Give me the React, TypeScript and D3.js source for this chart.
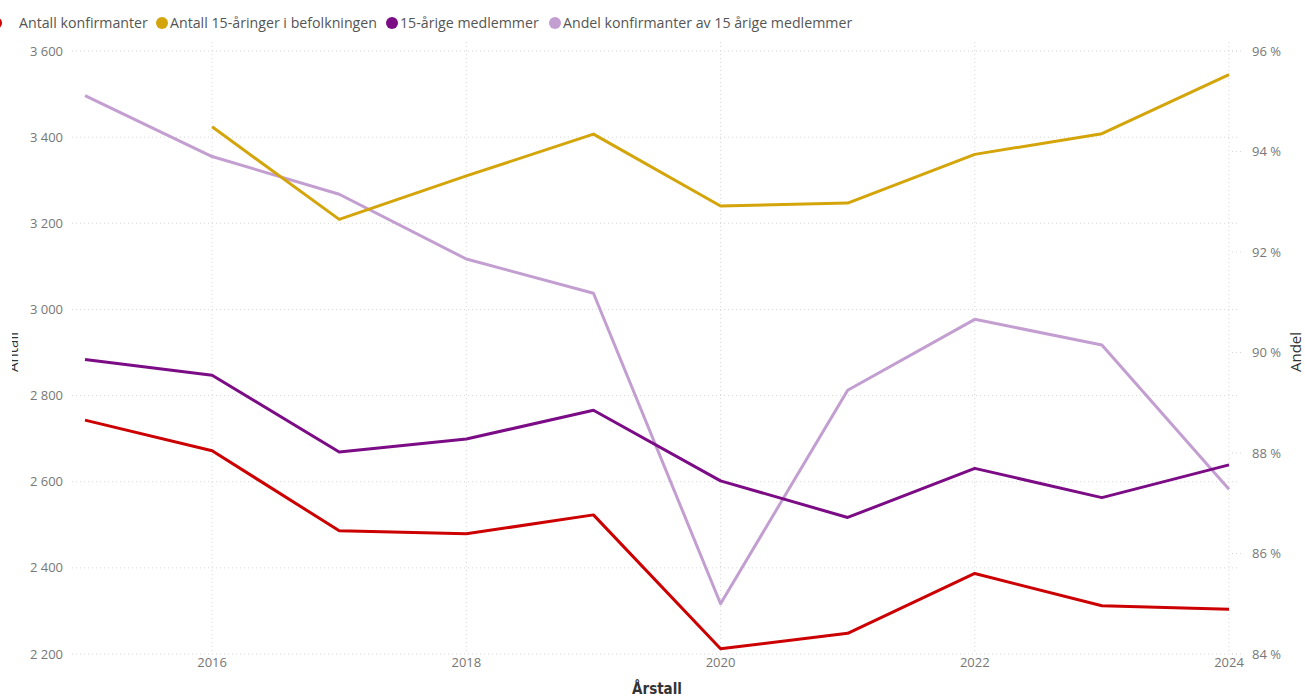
import React from "react";
import * as d3 from "d3";

const years = [2015, 2016, 2017, 2018, 2019, 2020, 2021, 2022, 2023, 2024];
const konfirmanter = [2743, 2672, 2486, 2479, 2523, 2212, 2248, 2387, 2312, 2304];
const befolkning: (number | null)[] = [null, 3424, 3209, 3310, 3407, 3240, 3247, 3360, 3408, 3545];
const medlemmer = [2884, 2847, 2669, 2699, 2766, 2602, 2517, 2631, 2563, 2639];
const andel = [95.11, 93.9, 93.15, 91.86, 91.18, 85.0, 89.25, 90.66, 90.15, 87.28];

const leftTicks = [2200, 2400, 2600, 2800, 3000, 3200, 3400, 3600];
const rightTicks = [84, 86, 88, 90, 92, 94, 96];
const xTicks = [2016, 2018, 2020, 2022, 2024];

const seriesNames = [
  "Antall konfirmanter",
  "Antall 15-åringer i befolkningen",
  "15-årige medlemmer",
  "Andel konfirmanter av 15 årige medlemmer",
];
const colors = ["#CC0000", "#D4A50A", "#7B0C86", "#C39ED1"];

const W = 1305;
const H = 697;

export default function App() {
  const x = d3.scaleLinear().domain([2015, 2024]).range([85, 1229]);
  const yL = d3.scaleLinear().domain([2200, 3600]).range([654, 51]);
  const yR = d3.scaleLinear().domain([84, 96]).range([654, 51]);
  const loc = d3.formatLocale({ decimal: ",", thousands: "\u00a0", grouping: [3], currency: ["", " kr"] });
  const fmtL = loc.format(",d");

  const lineL = d3
    .line<[number, number | null]>()
    .defined((d) => d[1] != null)
    .x((d) => x(d[0]))
    .y((d) => yL(d[1] as number));
  const lineR = d3
    .line<[number, number]>()
    .x((d) => x(d[0]))
    .y((d) => yR(d[1]));

  const zip = (arr: (number | null)[]) => years.map((yr, i) => [yr, arr[i]] as [number, number | null]);

  const font = "'Segoe UI', 'Open Sans', sans-serif";
  const legendX = [{ c: -4, t: 19 }, { c: 162, t: 170 }, { c: 392, t: 400 }, { c: 555, t: 563 }];

  return (
    <svg width={W} height={H} style={{ position: "absolute", left: 0, top: 0, background: "#fff" }} fontFamily={font}>
      <defs>
        <clipPath id="leftClip">
          <rect x={12} y={0} width={W} height={H} />
        </clipPath>
      </defs>
      {/* legend */}
      {seriesNames.map((n, i) => (
        <g key={n}>
          <circle cx={legendX[i].c} cy={23} r={6} fill={colors[i]} />
          <text x={legendX[i].t} y={28} fontSize={14.2} fill="#555">
            {n}
          </text>
        </g>
      ))}
      {/* horizontal grid (left axis) */}
      {leftTicks.map((t) => (
        <line key={"hg" + t} x1={72} x2={1240} y1={yL(t)} y2={yL(t)} stroke="#d6d6d6" strokeWidth={1} strokeDasharray="1 3" />
      ))}
      {/* right axis short grid */}
      {rightTicks.map((t) => (
        <line key={"rg" + t} x1={1232} x2={1243} y1={yR(t)} y2={yR(t)} stroke="#d6d6d6" strokeWidth={1} strokeDasharray="1 3" />
      ))}
      {/* vertical grid */}
      {xTicks.map((t) => (
        <line key={"vg" + t} x1={x(t)} x2={x(t)} y1={42} y2={654} stroke="#d6d6d6" strokeWidth={1} strokeDasharray="1 3" />
      ))}
      {/* left tick labels */}
      {leftTicks.map((t) => (
        <text key={"lt" + t} x={63} y={yL(t) + 4.5} textAnchor="end" fontSize={13} fill="#777">
          {fmtL(t)}
        </text>
      ))}
      {/* right tick labels */}
      {rightTicks.map((t) => (
        <text key={"rt" + t} x={1252} y={yR(t) + 4.5} textAnchor="start" fontSize={13} fill="#777">
          {t + "\u00a0%"}
        </text>
      ))}
      {/* x tick labels */}
      {xTicks.map((t) => (
        <text key={"xt" + t} x={x(t)} y={667} textAnchor="middle" fontSize={13} fill="#777">
          {t}
        </text>
      ))}
      {/* axis titles */}
      <text x={657} y={694} textAnchor="middle" fontSize={15} fontWeight={600} fill="#333" fontFamily="'DejaVu Sans Condensed', 'Roboto', sans-serif">
        Årstall
      </text>
      <g clipPath="url(#leftClip)">
        <text transform={`translate(18,352) rotate(-90)`} textAnchor="middle" fontSize={15} fill="#333">
          Antall
        </text>
      </g>
      <text transform={`translate(1301,352) rotate(-90)`} textAnchor="middle" fontSize={15} fill="#333">
        Andel
      </text>
      {/* lines */}
      <path d={lineR(zip(andel) as [number, number][]) || ""} fill="none" stroke={colors[3]} strokeWidth={3} strokeLinejoin="round" />
      <path d={lineL(zip(befolkning)) || ""} fill="none" stroke={colors[1]} strokeWidth={3} strokeLinejoin="round" />
      <path d={lineL(zip(medlemmer)) || ""} fill="none" stroke={colors[2]} strokeWidth={3} strokeLinejoin="round" />
      <path d={lineL(zip(konfirmanter)) || ""} fill="none" stroke={colors[0]} strokeWidth={3} strokeLinejoin="round" />
    </svg>
  );
}
